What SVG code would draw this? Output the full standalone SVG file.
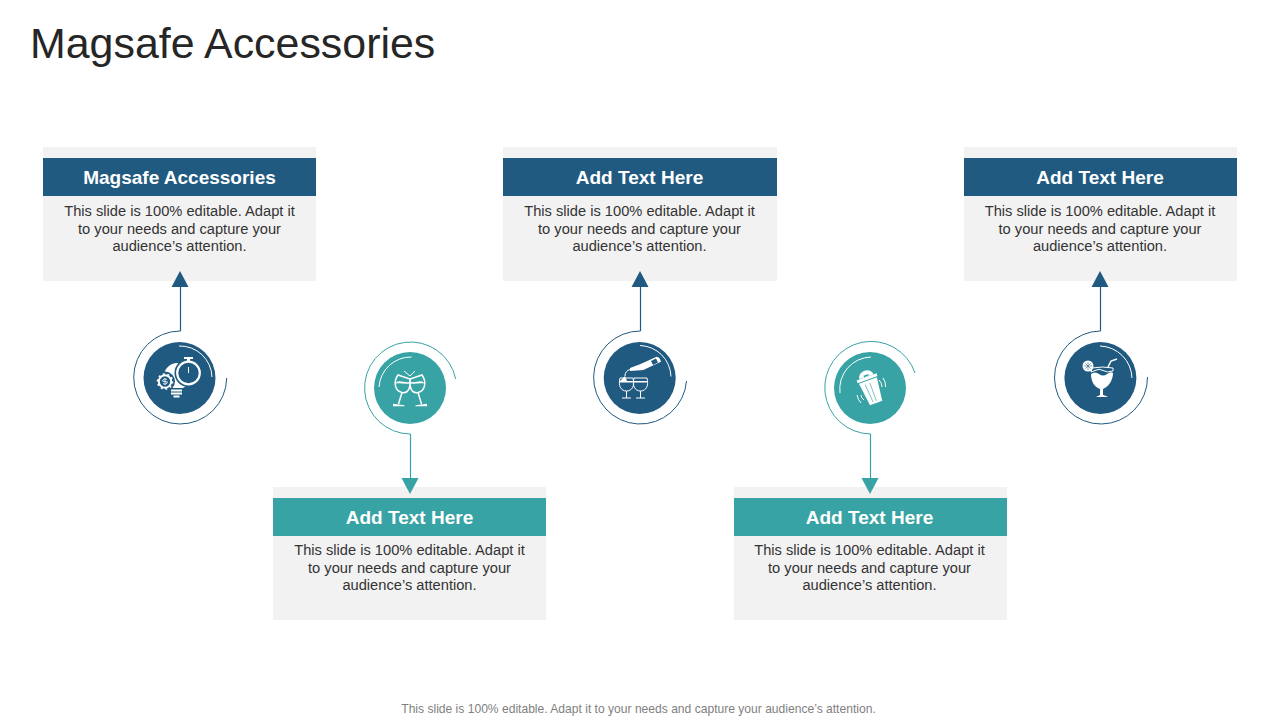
<svg xmlns="http://www.w3.org/2000/svg" width="1280" height="720" viewBox="0 0 1280 720">
<style>
text{font-family:"Liberation Sans",Arial,sans-serif}
.title{font-size:42.9px;fill:#262626}
.head{font-size:19px;font-weight:700;fill:#fff;text-anchor:middle}
.body{font-size:14.67px;fill:#333;text-anchor:middle}
.foot{font-size:12.08px;fill:#7f7f7f;text-anchor:middle}
.card{fill:#f2f2f2}
.blue .bar,.blue .disc,.blue .tip{fill:#215a80}
.teal .bar,.teal .disc,.teal .tip{fill:#38a3a5}
.ring{fill:none;stroke-width:1}
.blue .ring,.blue .stem{stroke:#215a80}
.teal .ring,.teal .stem{stroke:#38a3a5}
.stem{stroke-width:1.2;fill:none}
.shine{fill:none;stroke:#fff;stroke-width:1}
.w{fill:#fff}
.l{fill:none;stroke:#fff;stroke-width:1.5}
.t{stroke-width:1}
.blue .d{fill:#215a80}
.teal .d{fill:#38a3a5}
</style>
<rect width="1280" height="720" fill="#fff"/>
<text class="title" x="30" y="57.500">Magsafe Accessories</text>

<g id="card1" class="blue"><rect class="card" x="43" y="147" width="273" height="134"/><rect class="bar" x="43" y="158" width="273" height="38"/>
<text class="head" x="179.500" y="183.500">Magsafe Accessories</text>
<text class="body" x="179.500" y="216">This slide is 100% editable. Adapt it</text><text class="body" x="179.500" y="234">to your needs and capture your</text><text class="body" x="179.500" y="251">audience’s attention.</text></g>
<g id="card2" class="teal"><rect class="card" x="273" y="487" width="273" height="133"/><rect class="bar" x="273" y="498" width="273" height="38"/>
<text class="head" x="409.500" y="523.500">Add Text Here</text>
<text class="body" x="409.500" y="555">This slide is 100% editable. Adapt it</text><text class="body" x="409.500" y="573">to your needs and capture your</text><text class="body" x="409.500" y="590">audience’s attention.</text></g>
<g id="card3" class="blue"><rect class="card" x="503" y="147" width="274" height="134"/><rect class="bar" x="503" y="158" width="274" height="38"/>
<text class="head" x="639.500" y="183.500">Add Text Here</text>
<text class="body" x="639.500" y="216">This slide is 100% editable. Adapt it</text><text class="body" x="639.500" y="234">to your needs and capture your</text><text class="body" x="639.500" y="251">audience’s attention.</text></g>
<g id="card4" class="teal"><rect class="card" x="734" y="487" width="273" height="133"/><rect class="bar" x="734" y="498" width="273" height="38"/>
<text class="head" x="869.500" y="523.500">Add Text Here</text>
<text class="body" x="869.500" y="555">This slide is 100% editable. Adapt it</text><text class="body" x="869.500" y="573">to your needs and capture your</text><text class="body" x="869.500" y="590">audience’s attention.</text></g>
<g id="card5" class="blue"><rect class="card" x="964" y="147" width="273" height="134"/><rect class="bar" x="964" y="158" width="273" height="38"/>
<text class="head" x="1100" y="183.500">Add Text Here</text>
<text class="body" x="1100" y="216">This slide is 100% editable. Adapt it</text><text class="body" x="1100" y="234">to your needs and capture your</text><text class="body" x="1100" y="251">audience’s attention.</text></g>

<g id="connectors">
<g class="blue"><path class="stem" d="M180.500 331V287"/><path class="tip" d="M180 271l8.500 16h-17z"/></g>
<g class="teal"><path class="stem" d="M410.500 434V478"/><path class="tip" d="M410 494l-8.500-16h17z"/></g>
<g class="blue"><path class="stem" d="M640.500 331V287"/><path class="tip" d="M640 271l8.500 16h-17z"/></g>
<g class="teal"><path class="stem" d="M870.500 434V478"/><path class="tip" d="M870 494l-8.500-16h17z"/></g>
<g class="blue"><path class="stem" d="M1100.500 331V287"/><path class="tip" d="M1100 271l8.500 16h-17z"/></g>
</g>

<g id="icon1" class="blue" transform="translate(180 378)">
<path class="ring" d="M0.500-47A46.500 46.500 0 1 0 46.700 0"/>
<circle class="disc" cx="-0.500" cy="0" r="36"/>
<path class="shine" d="M-1-32A32 32 0 0 1 32-1"/>
<path class="w" d="M-2-15C-12-15-17-7-16 0C-15 5-11 7-10 10H3L6 8L4-4z"/>
<path class="w" d="M-9 11.500h11v2h-11zM-9 14.500h11v2h-11zM-6.500 17.500h6v2h-6z"/>
<circle class="d" cx="8.500" cy="-5" r="14"/>
<circle class="l" cx="8.500" cy="-5" r="11.300" style="stroke-width:2.200"/>
<path class="l t" d="M8.500-11V-5"/>
<path class="w" d="M4-21h9v2h-3v2.500h-3v-2.500h-3z"/>
<circle class="d" cx="-15" cy="3.500" r="10"/>
<circle class="l" cx="-15" cy="3.500" r="6.200" style="stroke-width:2"/>
<circle class="l" cx="-15" cy="3.500" r="7.500" style="stroke-width:1.600;stroke-dasharray:2 2.700"/>
<path class="l t" d="M-13 1.500Q-15 0-17 1.800T-15 3.500T-13 5.300T-17 5.500M-15 0V7" style="stroke-width:.8"/>
</g>

<g id="icon2" class="teal" transform="translate(410 388)">
<path class="ring" d="M0.500 46A46 46 0 1 1 45.700-9"/>
<circle class="disc" cx="0" cy="0" r="36"/>
<path class="shine" d="M-31-1A32 32 0 0 1 1.600-31"/>
<path class="l" d="M-12-13C-17-6-15 3-8 4.500S1-2 0-9zM-8 4.500L-11.500 16"/>
<path class="w" d="M-17 15.700L-5.500 17.300V18.300H-17z"/>
<path class="w" d="M-13.500-6C-10-8-5-5-1-6V-4.500C-5-3.500-10-5.500-14-4.500z"/>
<path class="l" d="M12-13C17-6 15 3 8 4.500S-1-2 0-9zM8 4.500L11.500 16"/>
<path class="w" d="M17 15.700L5.500 17.300V18.300H17z"/>
<path class="w" d="M13.500-6C10-8 5-5 1-6V-4.500C5-3.500 10-5.500 14-4.500z"/>
<path class="l t" d="M-6-17L0-12L5-17"/>
</g>

<g id="icon3" class="blue" transform="translate(640 378)">
<path class="ring" d="M0.500-47A46.500 46.500 0 1 0 46.500 3"/>
<circle class="disc" cx="-0.300" cy="0" r="36"/>
<path class="shine" d="M0-32.500A32 32 0 0 1 31-1.500"/>
<path class="w" d="M-10-10L0-13.700L16.700-21.300Q20-21 21-16.300L3.300-8L-10-7z"/>
<path class="d" d="M11-17L16-19.500L18-15.500L13-13z"/>
<path class="l t" d="M-10-8.500Q-15-7-15-2"/>
<path class="l t" d="M-20 0H-7C-5 8-8 13-13.500 13S-22 8-20 0zM-13.500 13V20M-18 20H-9"/>
<path class="w" d="M-20 3L-15-2L-13 3H-7L-7.200 4.500H-20z"/>
<path class="l t" d="M-6 0H7C9 8 6 13 .5 13S-8 8-6 0zM.5 13V20M-4 20H5"/>
<path class="w" d="M-6 3H7L6.700 4.500H-6z"/>
</g>

<g id="icon4" class="teal" transform="translate(870 388)">
<path class="ring" d="M0.500 46A46.300 46.300 0 1 1 45-15"/>
<circle class="disc" cx="0" cy="0" r="36"/>
<path class="shine" d="M-30 5A32 32 0 0 1 1-31"/>
<g transform="translate(1 1) rotate(-20)">
<path class="w" d="M-9.500-9H9.500L6.500 15H-6.500z"/>
<path class="w" d="M-10.500-13H10.500V-10H-10.500z"/>
<path class="w" d="M-7.500-13A7.500 6.500 0 0 1 7.500-13z"/>
<path class="d" d="M-2.500-15h5v1.500h-5z"/>
<path class="l t" d="M-4-6L-2.500 13M1-6L1 13" style="stroke:#38a3a5;stroke-width:.6"/>
</g>
<path class="l t" d="M9-8Q12-5 12-1M13-10Q16-6 15.500-1M-9 7Q-9 10-6 12M-13 7Q-12 12-9 15"/>
</g>

<g id="icon5" class="blue" transform="translate(1100 378)">
<path class="ring" d="M0.500-47A46.500 46.500 0 1 0 47.500-1"/>
<circle class="disc" cx="0.400" cy="0" r="36"/>
<path class="shine" d="M0-32A33 33 0 0 1 32 0"/>
<path class="w" d="M-9-4Q-5-7-1-4T7-4T13-5C13 3 8 9 3 11V17C5 18 7 18 8 19H-4C-3 18-1 18 0 17V11C-6 9-9 3-9-4z"/>
<path class="l t" d="M-8-10Q2-12 13-10V-7Q7-5 3-7.500T-5-7.500L-9-6z"/>
<circle class="w" cx="-12" cy="-12" r="5.500"/>
<path d="M-12-16V-8M-16-12H-8M-14.800-14.800L-9.200-9.200M-9.200-14.800L-14.800-9.200" stroke="#215a80" stroke-width=".5"/>
<path class="l" d="M8-11L11-17L17-19"/>
</g>

<text class="foot" x="638.500" y="713">This slide is 100% editable. Adapt it to your needs and capture your audience’s attention.</text>
</svg>
